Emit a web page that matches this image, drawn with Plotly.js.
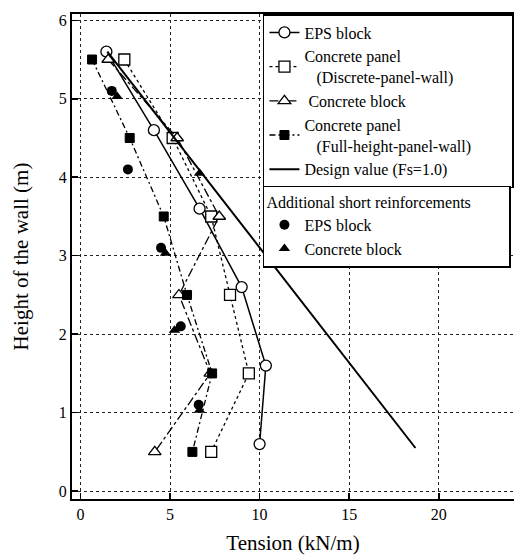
<!DOCTYPE html>
<html>
<head>
<meta charset="utf-8">
<script src="https://cdn.plot.ly/plotly-3.0.1.min.js"></script>
<style>html,body{margin:0;padding:0;background:#fff;}#chart{width:514px;height:558px;}</style>
</head>
<body>
<div id="chart"></div>
<script>
// Heights (m)
const heightsEPS = [5.6, 4.6, 3.6, 2.6, 1.6, 0.6];
const heightsStd = [5.5, 4.5, 3.5, 2.5, 1.5, 0.5];
// Tensions (kN/m)
const tensionEPS = [1.45, 4.1, 6.65, 9.0, 10.35, 10.0];
const tensionPanelDiscrete = [2.45, 5.15, 7.3, 8.35, 9.4, 7.3];
const tensionConcreteBlock = [1.55, 5.4, 7.75, 5.5, 7.25, 4.15];
const tensionPanelFull = [0.65, 2.75, 4.65, 5.95, 7.35, 6.25];
const designHeights = [5.6, 0.55];
const designTension = [1.5, 18.7];
const addEPSTension = [1.75, 2.65, 4.5, 5.6, 6.6];
const addEPSHeights = [5.1, 4.1, 3.1, 2.1, 1.1];
const addBlockTension = [2.05, 6.65, 4.75, 5.25, 6.65];
const addBlockHeights = [5.03, 4.05, 3.03, 2.05, 1.03];
const xTicks = [0, 5, 10, 15, 20];
const yTicks = [0, 1, 2, 3, 4, 5, 6];

const serif = 'Liberation Serif, Times New Roman, serif';
const pad = '\u00a0'.repeat(9);
const openMarker = (sym, size) => ({symbol: sym, size: size, color: '#fff', line: {color: '#000', width: 1.3}});
const legendFont = {family: serif, size: 16, color: '#000'};

const traces = [
  {x: tensionEPS, y: heightsEPS, name: 'EPS block', mode: 'lines+markers',
   line: {color: '#000', width: 1.5, dash: 'solid'}, marker: openMarker('circle', 11)},
  {x: tensionPanelDiscrete, y: heightsStd, name: 'Concrete panel<br>   (Discrete-panel-wall)', mode: 'lines+markers',
   line: {color: '#000', width: 1.3, dash: 'dot'}, marker: openMarker('square', 11)},
  {x: tensionConcreteBlock, y: heightsStd, name: ' Concrete block', mode: 'lines+markers',
   line: {color: '#000', width: 1.3, dash: 'dashdot'}, marker: openMarker('triangle-up', 11)},
  {x: tensionPanelFull, y: heightsStd, name: 'Concrete panel<br>   (Full-height-panel-wall)' + pad, mode: 'lines+markers',
   line: {color: '#000', width: 1.3, dash: '6px,3px,2px,3px'},
   marker: {symbol: 'square', size: 9, color: '#000', line: {color: '#000', width: 1}}},
  {x: designTension, y: designHeights, name: 'Design value (Fs=1.0)', mode: 'lines',
   line: {color: '#000', width: 2}},
  {x: addEPSTension, y: addEPSHeights, name: 'EPS block', mode: 'markers', legend: 'legend2',
   marker: {symbol: 'circle', size: 10, color: '#000'}},
  {x: addBlockTension, y: addBlockHeights, name: 'Concrete block', mode: 'markers', legend: 'legend2',
   marker: {symbol: 'triangle-up', size: 10, color: '#000'}}
];

const axisCommon = {
  showline: true, linecolor: '#000', linewidth: 2,
  showgrid: true, gridcolor: '#222', gridwidth: 1, griddash: 'dot',
  zeroline: false, ticks: 'inside', ticklen: 6, tickcolor: '#000', tickwidth: 1.5,
  tickfont: {family: serif, size: 16, color: '#000'}
};

const plotTop = 14, plotBottom = 499;
const layout = {
  width: 514, height: 558,
  margin: {l: 72, r: 0, t: plotTop, b: 558 - plotBottom},
  paper_bgcolor: '#fff', plot_bgcolor: '#fff',
  font: {family: serif, color: '#000'},
  showlegend: true,
  xaxis: Object.assign({}, axisCommon, {
    range: [-0.47, 24.2], tickvals: xTicks, ticktext: xTicks.map(String), mirror: true,
    title: {text: 'Tension (kN/m)', font: {family: serif, size: 21, color: '#000'}, standoff: 13}
  }),
  yaxis: Object.assign({}, axisCommon, {
    range: [-0.1, 6.08], tickvals: yTicks, ticktext: yTicks.map(String),
    title: {text: 'Height of the wall (m)', font: {family: serif, size: 21, color: '#000'}, standoff: 24}
  }),
  legend: {
    x: 0.432, xanchor: 'left', y: 1, yanchor: 'top',
    bgcolor: '#fff', bordercolor: '#000', borderwidth: 1.5,
    font: legendFont, itemwidth: 30, tracegroupgap: 0, traceorder: 'normal'
  },
  legend2: {
    x: 0.432, xanchor: 'left', y: 0.64, yanchor: 'top',
    bgcolor: '#fff', bordercolor: '#000', borderwidth: 1.5,
    font: legendFont,
    title: {text: 'Additional short reinforcements' + pad, font: legendFont},
    itemwidth: 30, traceorder: 'normal'
  }
};

Plotly.newPlot('chart', traces, layout, {staticPlot: true, displayModeBar: false}).then(function (gd) {
  const bg = gd.querySelector('.legend .bg');
  if (bg) {
    const h = bg.getBBox().height;
    const y2 = 1 - (h - 1) / (plotBottom - plotTop);
    return Plotly.relayout(gd, {'legend2.y': y2});
  }
});
</script>
</body>
</html>
